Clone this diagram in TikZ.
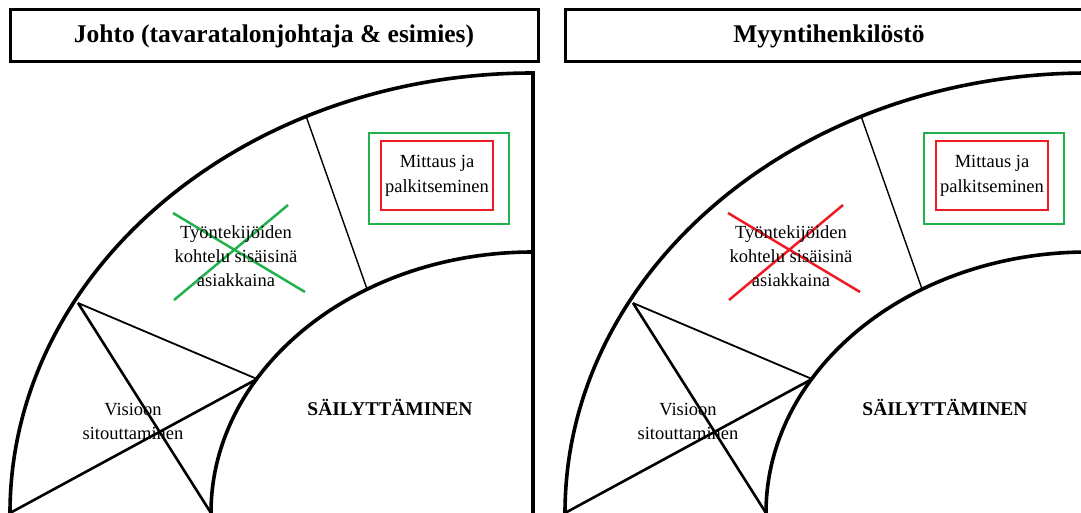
\documentclass[tikz,border=0pt]{standalone}
\usepackage{fontspec}
\setmainfont{Liberation Serif}
\definecolor{markgreen}{RGB}{34,177,76}
\definecolor{markred}{RGB}{237,28,36}
\tikzset{
  heading/.style={draw, line width=3pt, minimum width=528pt, minimum height=52pt,
    inner sep=0pt, font=\bfseries\fontsize{25.5}{30}\selectfont},
  ring/.style={line width=3.6pt},
  thinline/.style={line width=1.4pt},
  bowline/.style={line width=2.6pt},
  bowtop/.style={line width=1.8pt},
  areatext/.style={align=center, inner sep=0pt, font=\fontsize{18.5}{24}\selectfont},
  centretext/.style={inner sep=0pt, font=\bfseries\fontsize{19.5}{24}\selectfont},
  strike/.style={line width=2.5pt},
  innerbox/.style={draw=markred, line width=2.6pt, minimum width=112pt, minimum height=69pt,
    inner sep=0pt, align=center, font=\fontsize{18.5}{25}\selectfont},
  outerbox/.style={draw=markgreen, line width=2.6pt, minimum width=140pt, minimum height=91pt, inner sep=0pt},
}
% #1 name prefix, #2 heading, #3 colour of the cross, #4 horizontal offset
\newcommand{\retentionpanel}[4]{%
  \begin{scope}[xshift=#4pt]
    \node[heading] (#1head) at (274,36) {#2};
    % quarter ring
    \draw[ring] (10,513) arc[start angle=180, end angle=270, x radius=523, y radius=440]
      coordinate (#1outertop) -- (533,513);
    \draw[ring] (211,513) arc[start angle=180, end angle=270, x radius=322, y radius=261];
    % sector divider
    \coordinate (#1divA) at (306,116);
    \coordinate (#1divB) at (367,289);
    \draw[thinline] (#1divA) -- (#1divB);
    % bow-tie sector
    \coordinate (#1bowL) at (10,513);
    \coordinate (#1bowR) at (211,513);
    \coordinate (#1bowT) at (78,303);
    \coordinate (#1bowI) at (257,379);
    \draw[bowline] (#1bowL) -- (#1bowI);
    \draw[bowline] (#1bowR) -- (#1bowT);
    \draw[bowtop] (#1bowT) -- (#1bowI);
    % crossed-out sector
    \coordinate (#1xa) at (173,213);
    \coordinate (#1xb) at (305,292);
    \coordinate (#1xc) at (288,205);
    \coordinate (#1xd) at (174,300);
    \draw[strike, #3] (#1xa) -- (#1xb);
    \draw[strike, #3] (#1xc) -- (#1xd);
    \node[areatext] (#1treat) at (236,256) {Työntekijöiden\\kohtelu sisäisinä\\asiakkaina};
    \node[areatext] (#1vision) at (133,421) {Visioon\\sitouttaminen};
    \node[centretext] (#1keep) at (390,407) {SÄILYTTÄMINEN};
    % measurement sector
    \node[outerbox] (#1green) at (439,178.5) {};
    \node[innerbox] (#1red) at (437,175.5) {Mittaus ja\\palkitseminen};
  \end{scope}%
}
\begin{document}
\begin{tikzpicture}[x=1pt, y=-1pt]
  \useasboundingbox (0,0) rectangle (1081,513);
  \clip (0,0) rectangle (1081,513);
  \fill[white] (0,0) rectangle (1081,513);
  \retentionpanel{L}{Johto (tavaratalonjohtaja \& esimies)}{markgreen}{0}
  \retentionpanel{R}{Myyntihenkilöstö}{markred}{555}
\end{tikzpicture}
\end{document}
